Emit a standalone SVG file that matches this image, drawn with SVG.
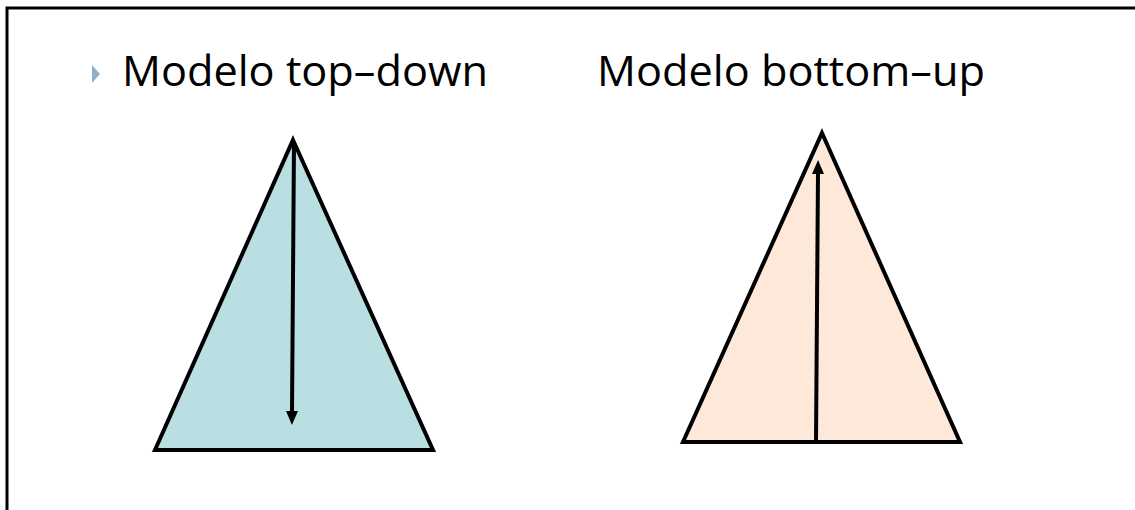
<svg xmlns="http://www.w3.org/2000/svg" width="1135" height="510" viewBox="0 0 1135 510">
<defs>
<style>
.t{font-family:"Open Sans","DejaVu Sans",sans-serif;font-size:42px;fill:#000}
.tri{stroke:#000;stroke-width:4;stroke-linejoin:miter}
.ar{stroke:#000;stroke-width:4;fill:none}
</style>
<marker id="ah" viewBox="0 0 14 14" refX="2" refY="7" markerWidth="14" markerHeight="14" orient="auto" markerUnits="userSpaceOnUse" overflow="visible">
<path d="M0,1 L14,7 L0,13 z" fill="#000"/>
</marker>
</defs>
<rect width="1135" height="510" fill="#fff"/>
<path d="M7,510 V8 H1135" fill="none" stroke="#000" stroke-width="3"/>
<g id="title-left">
<polygon points="92,65 100,74 92,83" fill="#91afc6"/>
<text class="t" x="122" y="86" textLength="366" lengthAdjust="spacingAndGlyphs">Modelo top–down</text>
</g>
<g id="title-right">
<text class="t" x="597" y="86" textLength="388" lengthAdjust="spacingAndGlyphs">Modelo bottom–up</text>
</g>
<g id="top-down">
<polygon class="tri" points="293,140 433,450 155,450" fill="#b9dfe3"/>
</g>
<g id="bottom-up">
<polygon class="tri" points="822,133 960,442 683,442" fill="#fde8da"/>
</g>
<g id="connectors">
<line class="ar" x1="294" y1="142" x2="292" y2="413" marker-end="url(#ah)"/>
<line class="ar" x1="816" y1="442" x2="818" y2="172" marker-end="url(#ah)"/>
</g>
</svg>
